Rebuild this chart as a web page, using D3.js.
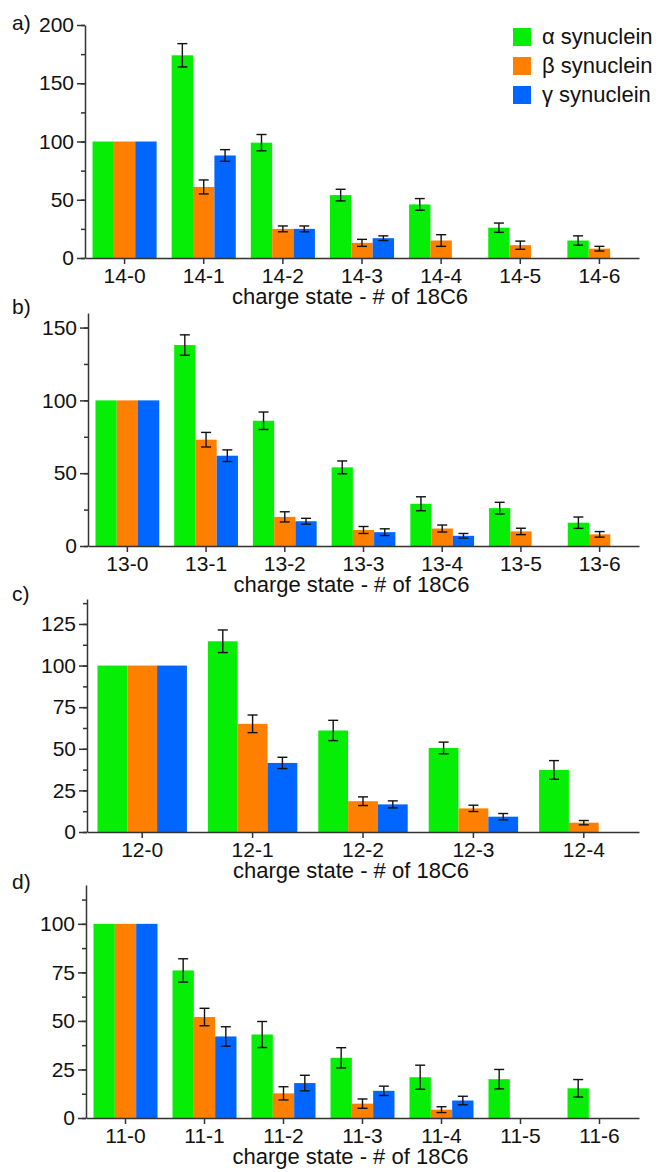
<!DOCTYPE html>
<html>
<head>
<meta charset="utf-8">
<script src="https://cdn.jsdelivr.net/npm/d3@7"></script>
<style>
  body { margin: 0; background: #fff; }
  svg { display: block; font-family: "Liberation Sans", Arial, Helvetica, sans-serif; }
  .axis path, .axis line { stroke: #333; stroke-width: 1.5; }
  .axis text { fill: #111; }
</style>
</head>
<body>
<svg width="658" height="1172"></svg>
<script>
// series
var seriesNames = ["α synuclein", "β synuclein", "γ synuclein"];
var seriesColors = ["#06ee06", "#ff8000", "#0066ff"];
var axisTitle = "charge state - # of 18C6";

// a) charge state 14
var catsA = ["14-0", "14-1", "14-2", "14-3", "14-4", "14-5", "14-6"];
var alphaA = [100, 174, 99, 54, 46, 26, 15];
var alphaErrA = [0, 10, 7, 5, 5, 4, 4];
var betaA = [100, 61, 25, 13, 15, 11, 8];
var betaErrA = [0, 6, 2.5, 3, 5, 3.5, 2];
var gammaA = [100, 88, 25, 17, null, null, null];
var gammaErrA = [0, 5, 2.5, 2, null, null, null];

// b) charge state 13
var catsB = ["13-0", "13-1", "13-2", "13-3", "13-4", "13-5", "13-6"];
var alphaB = [100, 138, 86, 54, 29, 26, 16];
var alphaErrB = [0, 7, 6, 4.4, 4.8, 4, 3.9];
var betaB = [100, 73, 20, 11, 12, 10, 8];
var betaErrB = [0, 5, 3.5, 2.4, 2.4, 2.2, 1.9];
var gammaB = [100, 62, 17, 9.5, 7, null, null];
var gammaErrB = [0, 4, 2, 2.3, 1.6, null, null];

// c) charge state 12
var catsC = ["12-0", "12-1", "12-2", "12-3", "12-4"];
var alphaC = [100, 114.6, 61, 50.5, 37.3];
var alphaErrC = [0, 6.8, 6.1, 3.5, 5.6];
var betaC = [100, 65, 18.5, 14.2, 5.6];
var betaErrC = [0, 5.3, 2.6, 1.9, 1.3];
var gammaC = [100, 41.5, 16.6, 9.2, null];
var gammaErrC = [0, 3.4, 2.1, 1.9, null];

// d) charge state 11
var catsD = ["11-0", "11-1", "11-2", "11-3", "11-4", "11-5", "11-6"];
var alphaD = [100, 76, 43, 31, 21, 20, 15.3];
var alphaErrD = [0, 6, 6.7, 5.2, 6.2, 5, 4.5];
var betaD = [100, 52, 12.7, 7.4, 4.3, null, null];
var betaErrD = [0, 4.5, 3.4, 2.4, 1.5, null, null];
var gammaD = [100, 42, 18, 14, 9, null, null];
var gammaErrD = [0, 5, 4, 2.4, 2.2, null, null];

// y axis settings per panel
var yMaxes = [200, 160, 140, 120];
var majorSteps = [50, 50, 25, 25];
var minorSteps = [25, 25, 12.5, 12.5];

var panels = [
  { tag: "a)", cats: catsA, vals: [alphaA, betaA, gammaA], errs: [alphaErrA, betaErrA, gammaErrA], left: 85, top: 25, tagY: 30 },
  { tag: "b)", cats: catsB, vals: [alphaB, betaB, gammaB], errs: [alphaErrB, betaErrB, gammaErrB], left: 88, top: 313, tagY: 314 },
  { tag: "c)", cats: catsC, vals: [alphaC, betaC, gammaC], errs: [alphaErrC, betaErrC, gammaErrC], left: 87, top: 599, tagY: 601 },
  { tag: "d)", cats: catsD, vals: [alphaD, betaD, gammaD], errs: [alphaErrD, betaErrD, gammaErrD], left: 86, top: 885, tagY: 889 }
];

var svg = d3.select("svg");
var plotH = 233, right = 639;

panels.forEach(function(p, i) {
  var g = svg.append("g");
  var bottom = p.top + plotH;
  var yMax = yMaxes[i];

  var x0 = d3.scaleBand()
      .domain(p.cats)
      .range([p.left, right])
      .paddingInner(0.19)
      .paddingOuter(0.095);
  var x1 = d3.scaleBand()
      .domain(d3.range(seriesNames.length))
      .range([0, x0.bandwidth()]);
  var y = d3.scaleLinear().domain([0, yMax]).range([bottom, p.top]);

  // flatten to bar records
  var bars = [];
  p.cats.forEach(function(c, ci) {
    p.vals.forEach(function(arr, si) {
      if (arr[ci] == null) return;
      bars.push({ cat: c, s: si, v: arr[ci], e: p.errs[si][ci] });
    });
  });

  g.selectAll(".bar")
    .data(bars)
    .enter().append("rect")
      .attr("x", function(d) { return x0(d.cat) + x1(d.s); })
      .attr("y", function(d) { return y(d.v); })
      .attr("width", x1.bandwidth())
      .attr("height", function(d) { return y(0) - y(d.v); })
      .attr("fill", function(d) { return seriesColors[d.s]; });

  // error bars
  var eb = g.selectAll(".err")
    .data(bars.filter(function(d) { return d.e > 0; }))
    .enter().append("g")
      .attr("stroke", "#111")
      .attr("stroke-width", 1.4);
  var cx = function(d) { return x0(d.cat) + x1(d.s) + x1.bandwidth() / 2; };
  eb.append("line")
      .attr("x1", cx).attr("x2", cx)
      .attr("y1", function(d) { return y(d.v + d.e); })
      .attr("y2", function(d) { return y(d.v - d.e); });
  eb.append("line")
      .attr("x1", function(d) { return cx(d) - 5; }).attr("x2", function(d) { return cx(d) + 5; })
      .attr("y1", function(d) { return y(d.v + d.e); })
      .attr("y2", function(d) { return y(d.v + d.e); });
  eb.append("line")
      .attr("x1", function(d) { return cx(d) - 5; }).attr("x2", function(d) { return cx(d) + 5; })
      .attr("y1", function(d) { return y(d.v - d.e); })
      .attr("y2", function(d) { return y(d.v - d.e); });

  // y axis, minor then major
  var minorTicks = d3.range(0, yMax + 0.001, minorSteps[i]);
  var majorTicks = d3.range(0, yMax + 0.001, majorSteps[i]);
  g.append("g")
      .attr("class", "axis")
      .attr("transform", "translate(" + p.left + ",0)")
      .call(d3.axisLeft(y).tickValues(minorTicks).tickSize(4).tickSizeOuter(0).tickFormat(""));
  g.append("g")
      .attr("class", "axis")
      .attr("transform", "translate(" + p.left + ",0)")
      .call(d3.axisLeft(y).tickValues(majorTicks).tickSize(8).tickSizeOuter(0).tickPadding(3))
      .call(function(a) { a.select(".domain").remove(); })
      .selectAll("text")
        .attr("font-size", 21)
        .attr("font-family", "Liberation Sans, Arial, sans-serif");

  // x axis
  g.append("g")
      .attr("class", "axis")
      .attr("transform", "translate(0," + bottom + ")")
      .call(d3.axisBottom(x0).tickSize(6).tickSizeOuter(0).tickPadding(4))
      .selectAll("text")
        .attr("font-size", 21)
        .attr("font-family", "Liberation Sans, Arial, sans-serif");

  g.append("text")
      .attr("x", (p.left + right) / 2 - 12)
      .attr("y", bottom + 46)
      .attr("text-anchor", "middle")
      .attr("font-size", 22)
      .attr("fill", "#111")
      .text(axisTitle);

  g.append("text")
      .attr("x", 12)
      .attr("y", p.tagY)
      .attr("font-size", 21)
      .attr("fill", "#111")
      .text(p.tag);
});

// legend
var legend = svg.append("g").attr("transform", "translate(513,28)");
var item = legend.selectAll("g")
  .data(seriesNames)
  .enter().append("g")
    .attr("transform", function(d, i) { return "translate(0," + (i * 29) + ")"; });
item.append("rect")
    .attr("width", 18)
    .attr("height", 18)
    .attr("fill", function(d, i) { return seriesColors[i]; });
item.append("text")
    .attr("x", 29)
    .attr("y", 16)
    .attr("font-size", 22)
    .attr("fill", "#111")
    .text(function(d) { return d; });
</script>
</body>
</html>
